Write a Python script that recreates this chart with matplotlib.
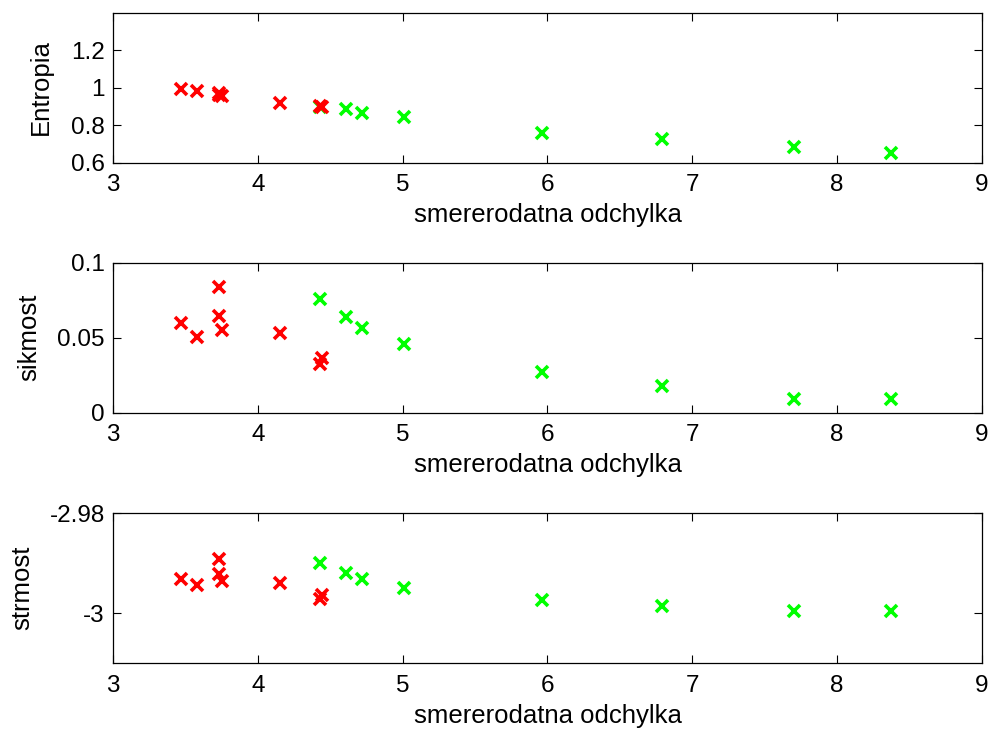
import matplotlib
matplotlib.use("Agg")
import matplotlib.pyplot as plt

# x values (smererodatna odchylka)
red_x = [3.47, 3.58, 3.73, 3.73, 3.75, 4.15, 4.43, 4.44]
green_x = [4.43, 4.61, 4.72, 5.01, 5.96, 6.79, 7.70, 8.37]

# Entropia
red_entropy = [0.990, 0.980, 0.972, 0.962, 0.955, 0.915, 0.900, 0.895]
green_entropy = [0.898, 0.885, 0.863, 0.842, 0.758, 0.726, 0.684, 0.653]

# sikmost
red_skew = [0.0600, 0.0507, 0.0840, 0.0642, 0.0549, 0.0533, 0.0322, 0.0367]
green_skew = [0.0760, 0.0640, 0.0565, 0.0456, 0.0270, 0.0178, 0.0088, 0.0088]

# strmost
red_kurt = [-2.99322, -2.99443, -2.98920, -2.99210, -2.99362, -2.99409, -2.99711, -2.99644]
green_kurt = [-2.98993, -2.99208, -2.99322, -2.99490, -2.99732, -2.99859, -2.99966, -2.99966]

xticks = [3, 4, 5, 6, 7, 8, 9]
panels = [
    ("Entropia", red_entropy, green_entropy, (0.6, 1.4), [0.6, 0.8, 1.0, 1.2], ["0.6", "0.8", "1", "1.2"]),
    ("sikmost", red_skew, green_skew, (0.0, 0.1), [0.0, 0.05, 0.1], ["0", "0.05", "0.1"]),
    ("strmost", red_kurt, green_kurt, (-3.01, -2.98), [-3.0, -2.98], ["-3", "-2.98"]),
]

plt.rcParams['font.family'] = ['Liberation Sans', 'DejaVu Sans']
fig = plt.figure(figsize=(9.92, 7.33), dpi=100)

bottoms = [0.7783, 0.437, 0.0955]
label_x = [-0.0695, -0.0822, -0.0902]
left, width, height = 0.1139, 0.876, 0.2046
fs_tick = 17.5
fs_label = 18.5

for (label, ry, gy, ylim, yt, ytl), b, lx in zip(panels, bottoms, label_x):
    ax = fig.add_axes([left, b, width, height])
    ax.plot(green_x, gy, 'x', color=(0, 1, 0), markersize=8, markeredgewidth=2.6, linestyle='none')
    ax.plot(red_x, ry, 'x', color=(1, 0, 0), markersize=8, markeredgewidth=2.6, linestyle='none')
    ax.set_xlim(3, 9)
    ax.set_ylim(*ylim)
    ax.set_xticks(xticks)
    ax.set_xticklabels([str(t) for t in xticks])
    ax.set_yticks(yt)
    ax.set_yticklabels(ytl)
    ax.tick_params(direction='in', length=6, width=0.8, top=True, right=True,
                   labelsize=fs_tick)
    ax.tick_params(axis='x', pad=8.5)
    ax.tick_params(axis='y', pad=6)
    for s in ax.spines.values():
        s.set_linewidth(0.9)
    ax.set_xlabel("smererodatna odchylka", fontsize=fs_label, labelpad=5)
    ax.set_ylabel(label, fontsize=fs_label)
    ax.yaxis.set_label_coords(lx, 0.5)

fig.savefig("out.png", dpi=100)
